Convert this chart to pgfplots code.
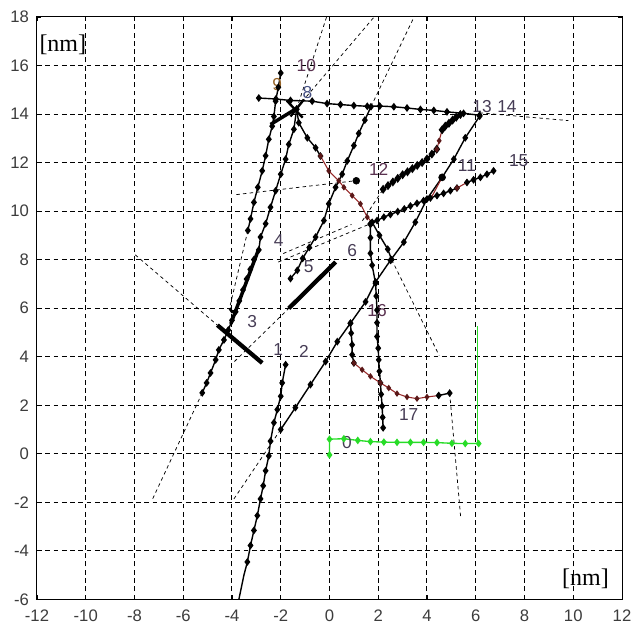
\documentclass[border=0pt]{standalone}
\usepackage{fontspec}
\setmainfont{Liberation Sans}
\newfontfamily\unitfont{Liberation Serif}
\usepackage{pgfplots}
\pgfplotsset{compat=1.18}

\definecolor{trackred}{RGB}{150,40,40}
\definecolor{trackgreen}{RGB}{40,220,40}
\definecolor{lblcol}{RGB}{70,60,85}
\definecolor{lblpurple}{RGB}{90,50,80}
\definecolor{lblblue}{RGB}{70,80,130}
\definecolor{lblorange}{RGB}{150,100,40}
\definecolor{ticklbl}{RGB}{60,60,60}

\pgfplotsset{
  track/.style={black, line width=1.05pt, mark=diamond*, mark size=2.1pt,
    mark options={solid, fill=black, draw=black}},
  redtrack/.style={trackred, line width=0.8pt, mark=diamond*, mark size=1.8pt,
    mark options={solid, fill=trackred!60!black, draw=trackred!60!black}},
  fit/.style={black, line width=0.55pt, dash pattern=on 2.6pt off 2.4pt, no marks},
  bar/.style={black, line width=3.2pt, no marks},
}

\begin{document}
\begin{tikzpicture}[lbl/.style={font=\fontsize{13}{15}\selectfont, text=lblcol, inner sep=0pt}]
\useasboundingbox (-27.75pt,-23.25pt) rectangle (449.5pt,449.75pt);
\begin{axis}[
  at={(0pt,0pt)}, anchor=south west,
  scale only axis,
  width=439pt, height=437pt,
  xmin=-12, xmax=12, ymin=-6, ymax=18,
  xtick={-12,-10,...,12}, ytick={-6,-4,...,18},
  grid=major,
  grid style={black, line width=0.75pt, dash pattern=on 3.6pt off 2.6pt},
  axis line style={black, line width=0.75pt},
  major tick length=3pt,
  tick style={black, line width=0.6pt},
  tick label style={font=\fontsize{12.5}{14}\selectfont, text=ticklbl},
  xticklabel style={yshift=-4.5pt},
  yticklabel style={xshift=-2.5pt},
  /pgf/number format/assume math mode=true,
  clip=true,
]

% fitted (extension) lines
\addplot[fit] coordinates {(-7.25,-1.85) (-5.22,2.51)};
\addplot[fit] coordinates {(-7.97,8.2) (-4.6,5.3)};
\addplot[fit] coordinates {(-3.92,-1.86) (-2.0,1.0)};
\addplot[fit] coordinates {(-3.9,3.8) (-1.67,5.99)};
\addplot[fit] coordinates {(-3.35,9.2) (-4.1,6.0)};
\addplot[fit] coordinates {(-1.35,14.2) (-0.12,18.0)};
\addplot[fit] coordinates {(-1.3,14.3) (1.83,18.0)};
\addplot[fit] coordinates {(1.7,14.3) (3.47,18.0)};
\addplot[fit] coordinates {(6.16,14.05) (9.8,13.73)};
\addplot[fit] coordinates {(-2.1,7.9) (1.68,9.48)};
\addplot[fit] coordinates {(-1.9,8.25) (0.9,9.45)};
\addplot[fit] coordinates {(-3.82,10.68) (1.05,11.25)};
\addplot[fit] coordinates {(2.55,8.0) (4.5,4.05)};
\addplot[fit] coordinates {(4.93,2.5) (5.38,-2.6)};
\addplot[fit] coordinates {(1.35,9.6) (2.2,10.9)};

% track 1
\addplot[track, mark phase=2] coordinates {
  (-3.8,-6.4) (-3.51,-5.0) (-3.37,-4.46) (-3.24,-3.78) (-3.1,-3.16) (-2.96,-2.55)
  (-2.83,-1.86) (-2.72,-1.32) (-2.62,-0.7) (-2.49,-0.09) (-2.42,0.52) (-2.28,1.28)
  (-2.14,1.82) (-2.0,2.37) (-1.94,2.92) (-1.8,3.67)};

% track 2 / 14
\addplot[track] coordinates {
  (-2.0,1.0) (-1.4,1.9) (-0.78,2.85) (-0.16,3.8) (0.32,4.62) (0.86,5.38) (1.48,6.26)
  (1.89,7.08) (2.5,7.97) (3.05,8.72) (3.52,9.54) (4.0,10.5) (4.62,11.39) (5.1,12.14)
  (5.57,13.02) (6.16,13.91)};

% track 3
\addplot[track] coordinates {
  (-5.22,2.51) (-5.04,2.92) (-4.88,3.33) (-4.67,3.87) (-4.54,4.28) (-4.33,4.69)
  (-4.15,5.1) (-4.0,5.5) (-3.85,5.85) (-3.7,6.3) (-3.55,6.75) (-3.4,7.2) (-3.25,7.6)
  (-3.1,8.0) (-2.9,8.4) (-2.83,8.93) (-2.62,9.48) (-2.42,10.16) (-2.21,10.84)
  (-2.0,11.52) (-1.8,12.14) (-1.67,12.75) (-1.46,13.37) (-1.35,14.2)};
\addplot[black, line width=2.6pt, no marks] coordinates {(-4.05,5.35) (-2.9,8.45)};
\addplot[black, line width=2pt, no marks] coordinates {(-4.1,6.0) (-4.0,5.85) (-3.8,5.9)};

% track 4 (from 10)
\addplot[track] coordinates {
  (-2.0,15.69) (-2.1,15.1) (-2.21,14.53) (-2.28,13.9) (-2.35,13.5) (-2.49,12.96)
  (-2.62,12.28) (-2.76,11.66) (-2.94,10.98) (-3.1,10.36) (-3.24,9.68) (-3.35,9.2)};

% cluster at 8
\addplot[black, line width=2.6pt, no marks] coordinates {(-2.42,13.57) (-1.32,14.25)};
\addplot[black, line width=1.8pt, no marks] coordinates {(-1.75,14.55) (-1.1,13.85)};
\addplot[black, line width=1.8pt, no marks] coordinates {(-1.6,13.9) (-1.05,14.6)};

% track 5
\addplot[track] coordinates {
  (-1.6,7.22) (-1.32,7.56) (-1.1,8.05) (-0.83,8.5) (-0.57,8.93) (-0.23,9.61)
  (-0.03,10.3) (0.25,10.98) (0.52,11.52) (0.73,12.07) (1.0,12.7) (1.2,13.2)
  (1.45,13.75) (1.7,14.3)};

% bars 3 and 6
\addplot[bar] coordinates {(-4.6,5.3) (-2.76,3.74)};
\addplot[bar] coordinates {(-1.67,5.99) (0.25,7.9)};

% track 8-13 (horizontal)
\addplot[track] coordinates {
  (-2.9,14.66) (-2.2,14.62) (-1.6,14.56) (-0.71,14.53) (-0.1,14.43) (0.45,14.39)
  (1.0,14.35) (1.55,14.32) (2.06,14.33) (2.64,14.3) (3.18,14.25) (3.73,14.19)
  (4.28,14.15) (4.82,14.09) (5.5,14.03) (6.16,13.95)};

% track 12
\addplot[track, line width=1.6pt] coordinates {
  (2.2,10.9) (2.4,11.05) (2.6,11.2) (2.8,11.35) (3.0,11.5) (3.2,11.62) (3.4,11.75)
  (3.6,11.88) (3.8,12.0) (4.0,12.15) (4.2,12.35) (4.4,12.55)};
\addplot[redtrack] coordinates {(4.4,12.55) (4.5,12.9) (4.62,13.35)};
\addplot[track, line width=1.6pt] coordinates {
  (4.62,13.35) (4.75,13.5) (4.9,13.62) (5.05,13.75) (5.2,13.87) (5.37,13.98)};
\addplot[black, only marks, mark=*, mark size=2.6pt] coordinates {(1.1,11.25)};

% track 15
\addplot[track] coordinates {
  (1.68,9.48) (1.95,9.61) (2.23,9.75) (2.5,9.86) (2.8,9.98) (3.07,10.09) (3.32,10.21)
  (3.59,10.32) (3.86,10.43) (4.14,10.54) (4.41,10.64) (4.68,10.73) (4.96,10.84)
  (5.23,10.95)};
\addplot[redtrack] coordinates {(5.23,10.95) (5.64,11.18)};
\addplot[track] coordinates {
  (5.64,11.18) (5.91,11.29) (6.19,11.39) (6.46,11.52) (6.73,11.66)};

% track 11
\addplot[redtrack, mark=none] coordinates {(4.2,10.6) (4.62,11.39)};
\addplot[black, only marks, mark=*, mark size=2.6pt] coordinates {(4.62,11.39)};

% track 16 (from 8)
\addplot[track] coordinates {
  (-1.35,14.2) (-1.26,13.64) (-0.91,13.02) (-0.57,12.61) (-0.37,12.27)};
\addplot[redtrack] coordinates {
  (-0.37,12.27) (-0.03,11.66) (0.38,11.25) (0.59,10.98) (0.93,10.64) (1.27,10.3)
  (1.55,9.75) (1.75,9.54)};
\addplot[track] coordinates {(1.75,9.54) (2.05,9.0) (2.39,8.43) (2.55,8.0)};

% track 17 (vertical)
\addplot[track] coordinates {
  (1.68,9.45) (1.68,8.9) (1.68,8.26) (1.75,7.77) (1.89,7.02) (1.92,6.5) (1.95,5.92)
  (1.95,5.4) (1.95,4.83) (2.0,4.35) (2.02,3.87) (2.05,3.4) (2.09,2.92) (2.12,2.45)
  (2.16,1.96) (2.18,1.5) (2.2,1.07)};

% track 16 (curve)
\addplot[track] coordinates {
  (0.86,5.38) (0.89,4.97) (0.93,4.49) (0.93,4.08) (1.0,3.74)};
\addplot[redtrack] coordinates {
  (1.0,3.74) (1.34,3.46) (1.68,3.19) (2.09,2.92) (2.43,2.71) (2.77,2.48) (3.18,2.34)
  (3.59,2.27) (4.0,2.34) (4.48,2.4)};
\addplot[track] coordinates {(4.48,2.4) (4.93,2.5)};

% track 0 (green)
\addplot[trackgreen, line width=0.45pt, no marks] coordinates {(6.05,0.44) (6.05,5.25)};
\addplot[trackgreen, line width=1.0pt, mark=diamond*, mark size=2.1pt,
  mark options={fill=trackgreen, draw=trackgreen}] coordinates {
  (0,-0.05) (0,0.6) (0.59,0.62) (1.16,0.55) (1.68,0.5) (2.23,0.48) (2.77,0.47)
  (3.32,0.47) (3.86,0.47) (4.41,0.46) (5.02,0.43) (5.57,0.42) (6.12,0.42)};

% track numbers
\node[lbl] at (axis cs:0.72,0.46) {0};
\node[lbl] at (axis cs:-2.1,4.28) {1};
\node[lbl] at (axis cs:-1.05,4.21) {2};
\node[lbl] at (axis cs:-3.17,5.44) {3};
\node[lbl] at (axis cs:-2.08,8.79) {4};
\node[lbl] at (axis cs:-0.85,7.7) {5};
\node[lbl] at (axis cs:0.93,8.38) {6};
\node[lbl, text=lblblue] at (axis cs:-0.9,14.9) {8};
\node[lbl, text=lblorange] at (axis cs:-2.15,15.2) {9};
\node[lbl, text=lblpurple] at (axis cs:-0.95,16.0) {10};
\node[lbl] at (axis cs:5.64,11.86) {11};
\node[lbl, text=lblpurple] at (axis cs:2.02,11.73) {12};
\node[lbl] at (axis cs:6.26,14.3) {13};
\node[lbl] at (axis cs:7.28,14.3) {14};
\node[lbl] at (axis cs:7.76,12.07) {15};
\node[lbl, text=lblpurple] at (axis cs:1.95,5.92) {16};
\node[lbl] at (axis cs:3.25,1.62) {17};

% units
\node[font=\unitfont\fontsize{18}{20}\selectfont, inner sep=0pt] at (axis cs:-10.94,16.85) {[nm]};
\node[font=\unitfont\fontsize{18}{20}\selectfont, inner sep=0pt] at (axis cs:10.5,-5.15) {[nm]};
\end{axis}
\end{tikzpicture}
\end{document}
